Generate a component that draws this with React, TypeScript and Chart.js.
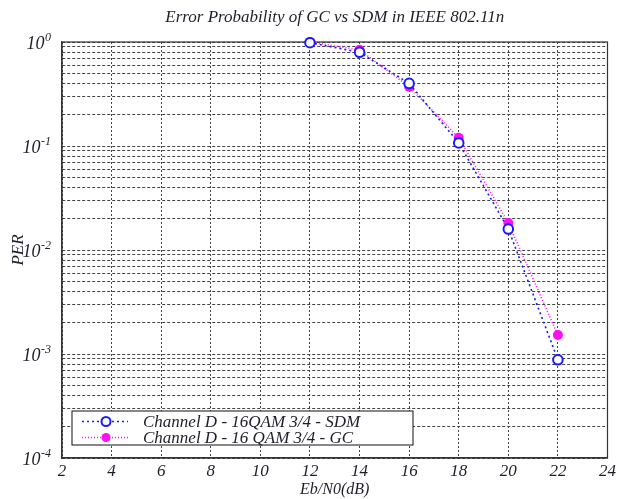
import React, { useEffect, useRef } from "react";
import { Chart, registerables } from "chart.js";
Chart.register(...registerables);

const titleText = "Error Probability of GC vs SDM in IEEE 802.11n";
const xTitle = "Eb/N0(dB)";
const yTitle = "PER";
const ebN0 = [12, 14, 16, 18, 20, 22];
const sdmPER = [0.985, 0.796, 0.4, 0.107, 0.0159, 0.00088];
const gcPER = [1.0, 0.84, 0.372, 0.12, 0.0182, 0.00152];
const sdmLabel = "Channel D - 16QAM 3/4 - SDM";
const gcLabel = "Channel D - 16 QAM 3/4 - GC";
const yExponents = [0, -1, -2, -3, -4];
const xMin = 2;
const xMax = 24;
const xStep = 2;

const SERIF = '"Liberation Serif", "Times New Roman", serif';
const TEXT = "#1e1e2a";
const BLUE = "#1a1aff";
const PINK = "#ff10f0";

const yGridValues: number[] = [];
for (let e = -4; e < 0; e++) {
  for (let m = 1; m <= 9; m++) yGridValues.push(m * Math.pow(10, e));
}
yGridValues.push(1);

const decor = {
  id: "decor",
  beforeDatasetsDraw(chart: any) {
    const { ctx, chartArea: a } = chart;
    ctx.save();
    ctx.setLineDash([]);
    ctx.strokeStyle = "#333";
    ctx.lineWidth = 1.2;
    ctx.strokeRect(a.left, a.top, a.right - a.left, a.bottom - a.top);
    ctx.restore();
  },
  afterDraw(chart: any) {
    const { ctx, chartArea: a } = chart;
    const ys = chart.scales.y;
    ctx.save();
    ctx.fillStyle = TEXT;
    // title
    ctx.font = `italic 17px ${SERIF}`;
    ctx.textAlign = "center";
    ctx.textBaseline = "alphabetic";
    ctx.fillText(titleText, (a.left + a.right) / 2, 22);
    // y tick labels with superscripts
    for (const e of yExponents) {
      const py = ys.getPixelForValue(Math.pow(10, e));
      const rx = a.left - 11;
      const sup = String(e);
      ctx.font = `italic 12px ${SERIF}`;
      const supW = ctx.measureText(sup).width;
      ctx.textAlign = "left";
      ctx.textBaseline = "alphabetic";
      ctx.fillText(sup, rx - supW, py - 1);
      ctx.font = `italic 18px ${SERIF}`;
      ctx.textAlign = "right";
      ctx.fillText("10", rx - supW - 0.5, py + 7);
    }
    // legend
    const lx = a.left + 10;
    const lw = 341;
    const lh = 34;
    const ly = a.bottom - 13 - lh;
    ctx.fillStyle = "#fff";
    ctx.fillRect(lx, ly, lw, lh);
    ctx.strokeStyle = "#111";
    ctx.lineWidth = 1;
    ctx.setLineDash([]);
    ctx.strokeRect(lx, ly, lw, lh);
    const rows = [
      { label: sdmLabel, color: BLUE, dash: [2, 3], filled: false },
      { label: gcLabel, color: PINK, dash: [1, 2], filled: true },
    ];
    rows.forEach((r, i) => {
      const cy = ly + 10.5 + i * 16;
      ctx.strokeStyle = r.color;
      ctx.lineWidth = 1.5;
      ctx.setLineDash(r.dash);
      ctx.beginPath();
      ctx.moveTo(lx + 10, cy);
      ctx.lineTo(lx + 56, cy);
      ctx.stroke();
      ctx.setLineDash([]);
      ctx.beginPath();
      ctx.arc(lx + 34, cy, 4.5, 0, Math.PI * 2);
      if (r.filled) {
        ctx.fillStyle = r.color;
        ctx.fill();
      } else {
        ctx.fillStyle = "#fff";
        ctx.fill();
        ctx.lineWidth = 2;
        ctx.stroke();
      }
      ctx.fillStyle = TEXT;
      ctx.font = `italic 17px ${SERIF}`;
      ctx.textAlign = "left";
      ctx.textBaseline = "middle";
      ctx.fillText(r.label, lx + 71, cy + 1);
    });
    ctx.restore();
  },
};

export default function App() {
  const ref = useRef<HTMLCanvasElement>(null);
  useEffect(() => {
    document.body.style.margin = "0";
    const chart = new Chart(ref.current!, {
      type: "line",
      data: {
        datasets: [
          {
            label: sdmLabel,
            data: ebN0.map((x, i) => ({ x, y: sdmPER[i] })),
            borderColor: BLUE,
            borderWidth: 1.6,
            borderDash: [2, 3],
            pointRadius: 4.8,
            pointBorderWidth: 2,
            pointBorderColor: BLUE,
            pointBackgroundColor: "#fff",
            tension: 0,
            clip: false as any,
          },
          {
            label: gcLabel,
            data: ebN0.map((x, i) => ({ x, y: gcPER[i] })),
            borderColor: PINK,
            borderWidth: 1.6,
            borderDash: [1, 2],
            pointRadius: 5,
            pointBorderWidth: 0,
            pointBorderColor: PINK,
            pointBackgroundColor: PINK,
            tension: 0,
            clip: false as any,
          },
        ],
      },
      options: {
        responsive: false,
        animation: false,
        layout: { padding: { top: 42, right: 11, bottom: 0, left: 0 } },
        plugins: {
          legend: { display: false },
          tooltip: { enabled: false },
          title: { display: false },
        },
        scales: {
          x: {
            type: "linear",
            min: xMin,
            max: xMax,
            ticks: {
              stepSize: xStep,
              color: TEXT,
              font: { family: SERIF, style: "italic", size: 17 },
              padding: 3,
            },
            grid: { color: "#444", lineWidth: 1, drawTicks: false },
            border: { display: true, color: "#333", width: 1.2, dash: [2, 2] },
            title: {
              display: true,
              text: xTitle,
              color: TEXT,
              font: { family: SERIF, style: "italic", size: 16 },
              padding: { top: 0, bottom: 0 },
            },
            afterFit: (s: any) => {
              s.height = 41;
            },
          },
          y: {
            type: "logarithmic",
            min: 1e-4,
            max: 1,
            afterBuildTicks: (s: any) => {
              s.ticks = yGridValues.map((v) => ({ value: v }));
            },
            ticks: { display: false },
            grid: { color: "#444", lineWidth: 1, drawTicks: false },
            border: { display: true, color: "#333", width: 1.2, dash: [3, 2] },
            title: {
              display: true,
              text: yTitle,
              color: TEXT,
              font: { family: SERIF, style: "italic", size: 17 },
              padding: { top: 8, bottom: 0 },
            },
            afterFit: (s: any) => {
              s.width = 62;
            },
          },
        },
      } as any,
      plugins: [decor],
    });
    return () => chart.destroy();
  }, []);
  return (
    <div style={{ width: 619, height: 499 }}>
      <canvas ref={ref} width={619} height={499} style={{ display: "block", width: 619, height: 499 }} />
    </div>
  );
}
